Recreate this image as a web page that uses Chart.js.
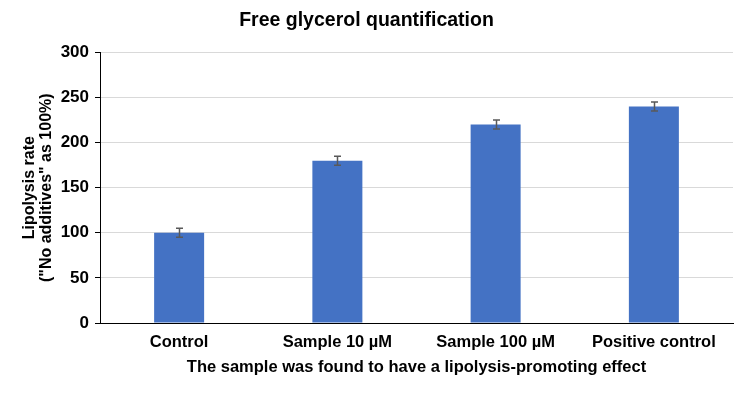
<!DOCTYPE html>
<html>
<head>
<meta charset="utf-8">
<script src="https://cdn.jsdelivr.net/npm/chart.js@4.4.1/dist/chart.umd.min.js"></script>
<style>
  html, body { margin: 0; padding: 0; background: #fff; }
  #wrap { width: 744px; height: 393px; }
</style>
</head>
<body>
<div id="wrap"><canvas id="glycerolChart" width="744" height="393"></canvas></div>
<script>
const categories = ['Control', 'Sample 10 \u00B5M', 'Sample 100 \u00B5M', 'Positive control'];
const lipolysisRate = [100, 180, 220, 240];
const errorSize = [5, 5, 5, 5];
const yTicks = [0, 50, 100, 150, 200, 250, 300];

const FONT = 'Arial, "Liberation Sans", sans-serif';

// draws the +/- error whiskers on top of each bar
const errorBarsPlugin = {
    id: 'errorBars',
    afterDatasetsDraw(chart) {
        const ctx = chart.ctx;
        const meta = chart.getDatasetMeta(0);
        const y = chart.scales.y;
        ctx.save();
        ctx.strokeStyle = '#595959';
        ctx.lineWidth = 1.5;
        meta.data.forEach((bar, i) => {
            const v = lipolysisRate[i], e = errorSize[i];
            const top = y.getPixelForValue(v + e), bot = y.getPixelForValue(v - e);
            const x = Math.round(bar.x) + 0.5;
            ctx.beginPath();
            ctx.moveTo(x, top); ctx.lineTo(x, bot);
            ctx.moveTo(x - 3.5, top); ctx.lineTo(x + 3.5, top);
            ctx.moveTo(x - 3.5, bot); ctx.lineTo(x + 3.5, bot);
            ctx.stroke();
        });
        ctx.restore();
    }
};

new Chart(document.getElementById('glycerolChart'), {
    type: 'bar',
    data: {
        labels: categories,
        datasets: [{
            data: lipolysisRate,
            backgroundColor: '#4472c4',
            borderWidth: 0,
            categoryPercentage: 1,
            barPercentage: 0.316
        }]
    },
    options: {
        responsive: false, animation: false,
        layout: { padding: { top: 5, right: 11, bottom: 16, left: 0 } },
        plugins: {
            legend: { display: false },
            tooltip: { enabled: false },
            title: {
                display: true, text: 'Free glycerol quantification', color: '#000',
                font: { family: FONT, size: 19.5, weight: 'bold' }, padding: { top: 4, bottom: 20 }
            }
        },
        scales: {
            x: {
                grid: { display: false, drawTicks: false },
                border: { display: true, color: '#000', width: 1 },
                ticks: { color: '#000', font: { family: FONT, size: 16.5, weight: 'bold' }, padding: 10 },
                afterFit: axis => { axis.height = 54; },
                title: {
                    display: true, text: 'The sample was found to have a lipolysis-promoting effect', color: '#000',
                    font: { family: FONT, size: 16.5, weight: 'bold' }, padding: { top: 2, bottom: 0 }
                }
            },
            y: {
                min: 0, max: 300,
                afterBuildTicks: axis => { axis.ticks = yTicks.map(v => ({ value: v })); },
                afterFit: axis => { axis.width = 100; },
                grid: { color: '#d9d9d9', lineWidth: 1, drawTicks: true, tickLength: 5, tickColor: '#000' },
                border: { display: true, color: '#000', width: 1 },
                ticks: { color: '#000', font: { family: FONT, size: 17, weight: 'bold' }, padding: 6 },
                title: {
                    display: true, text: ['Lipolysis rate', '("No additives" as 100%)'], color: '#000',
                    font: { family: FONT, size: 16, weight: 'bold', lineHeight: 1.05 }, padding: { top: 21, bottom: 6 }
                }
            }
        }
    },
    plugins: [errorBarsPlugin]
});
</script>
</body>
</html>
